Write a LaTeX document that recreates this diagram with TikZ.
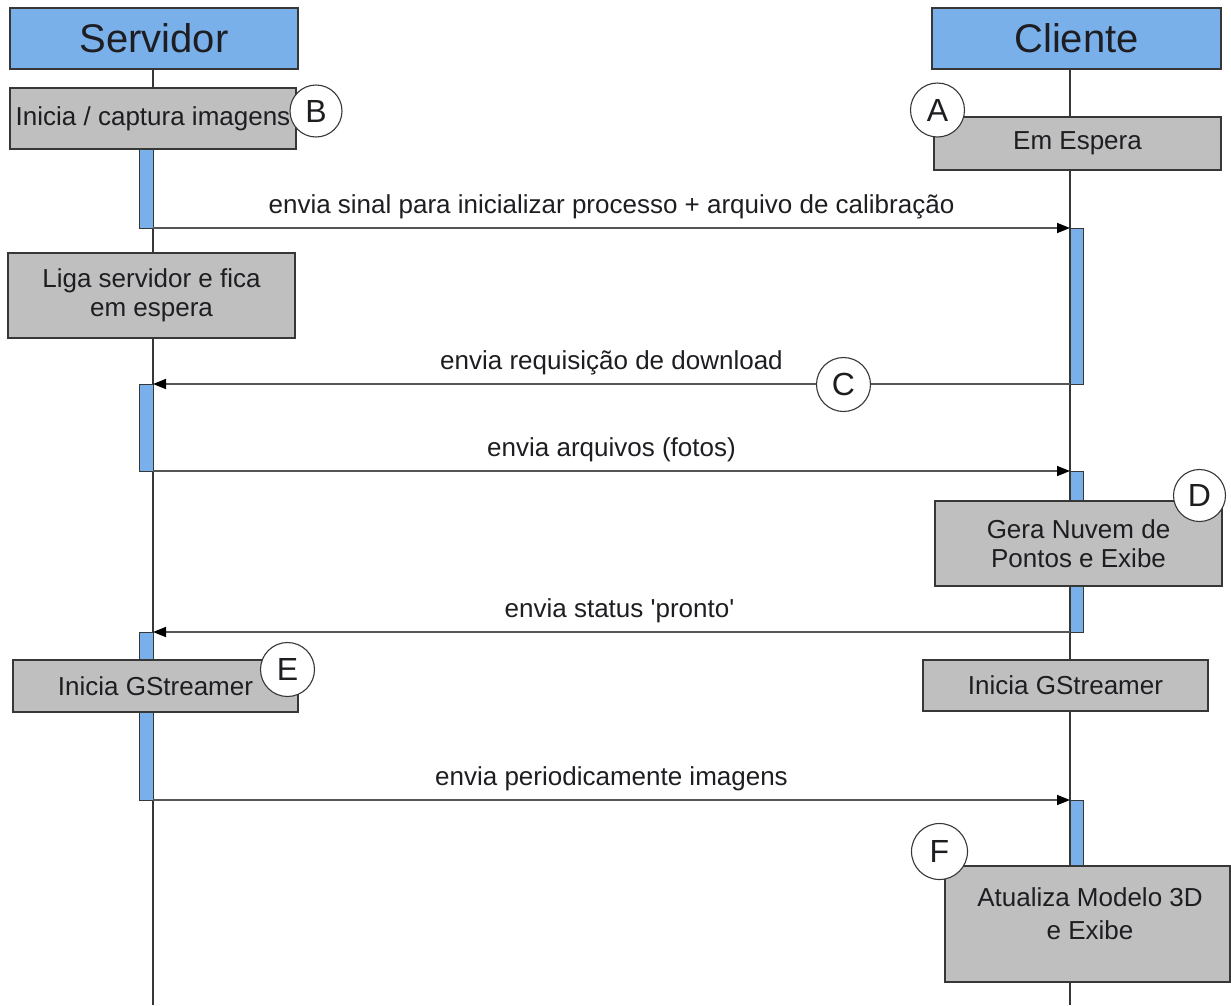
\documentclass[tikz,border=0pt]{standalone}
\usepackage{fontspec}
\setmainfont{Liberation Sans}
\usetikzlibrary{arrows.meta}

\definecolor{actblue}{RGB}{122,176,234}
\definecolor{stepgray}{RGB}{191,191,191}
\definecolor{inkline}{RGB}{55,55,55}
\definecolor{msgline}{RGB}{85,85,85}
\definecolor{inktext}{RGB}{30,30,34}

\begin{document}
\begin{tikzpicture}[x=1pt,y=-1pt,
  every node/.style={text=inktext},
  header/.style={draw=inkline, line width=1.2pt, fill=actblue, inner sep=0pt, outer sep=0pt,
    minimum height=61pt, font=\fontsize{40}{46}\selectfont},
  actbar/.style={draw=inkline, line width=1pt, fill=actblue, inner sep=0pt, outer sep=0pt,
    minimum width=14pt},
  stepbox/.style={draw=inkline, line width=1.2pt, fill=stepgray, inner sep=0pt, outer sep=0pt,
    align=center, font=\fontsize{26}{29.5}\selectfont},
  tag/.style={draw=inkline, line width=1.1pt, fill=white, circle, inner sep=0pt,
    minimum size=54pt, font=\fontsize{32}{36}\selectfont},
  lifeline/.style={draw=inkline, line width=1.2pt},
  msg/.style={draw=msgline, line width=1.6pt,
    -{Triangle[length=13pt,width=10pt,fill=black,color=black]}},
  msglabel/.style={anchor=base, yshift=15pt, font=\fontsize{26}{30}\selectfont}
]
\useasboundingbox (0,0) rectangle (1231,1005);

% lifeline heads
\node[header, minimum width=288pt] (srv) at (154,38.5) {Servidor};
\node[header, minimum width=289pt] (cli) at (1076.5,38.5) {Cliente};

% lifelines
\coordinate (srvEnd) at (153,1005);
\coordinate (cliEnd) at (1070,1005);
\draw[lifeline] (srvEnd |- srv.south) -- (srvEnd);
\draw[lifeline] (cliEnd |- cli.south) -- (cliEnd);

% activation bars
\node[actbar, minimum height=79pt]  (sa1) at (146,188.5) {};
\node[actbar, minimum height=156pt, minimum width=13pt] (ca1) at (1076.5,306) {};
\node[actbar, minimum height=87pt]  (sa2) at (146,427.5) {};
\node[actbar, minimum height=161pt, minimum width=13pt] (ca2) at (1076.5,551.5) {};
\node[actbar, minimum height=168pt] (sa3) at (146,716) {};
\node[actbar, minimum height=66pt, minimum width=13pt]  (ca3) at (1076.5,833) {};

% processing steps
\node[stepbox, minimum width=286pt, minimum height=61pt] (capt) at (153,118.5) {Inicia / captura imagens};
\node[stepbox, minimum width=287pt, minimum height=53pt] (wait) at (1077.5,143.5) {Em Espera};
\node[stepbox, minimum width=287pt, minimum height=85pt] (liga) at (151.5,295.5) {Liga servidor e fica\\em espera};
\node[stepbox, minimum width=287pt, minimum height=85pt] (nuvem) at (1078.5,543.5) {Gera Nuvem de\\Pontos e Exibe};
\node[stepbox, minimum width=285pt, minimum height=52pt] (gsS) at (155.5,686) {Inicia GStreamer};
\node[stepbox, minimum width=285pt, minimum height=51pt] (gsC) at (1065.5,685.5) {Inicia GStreamer};
\node[stepbox, minimum width=285pt, minimum height=116pt] (modelo) at (1087.5,924) {};
\node[align=center, inner sep=0pt, font=\fontsize{26}{33}\selectfont] (modeloTxt) at (1090,914)
  {Atualiza Modelo 3D\\e Exibe};

% messages
\draw[msg] (sa1.south east) -- node[msglabel] {envia sinal para inicializar processo + arquivo de calibração} (ca1.north west);
\draw[msg] (ca1.south west) -- node[msglabel] {envia requisição de download} (sa2.north east);
\draw[msg] (sa2.south east) -- node[msglabel] {envia arquivos (fotos)} (ca2.north west);
\draw[msg] (ca2.south west) -- node[msglabel, xshift=8pt] {envia status \textquotesingle pronto\textquotesingle} (sa3.north east);
\draw[msg] (sa3.south east) -- node[msglabel] {envia periodicamente imagens} (ca3.north west);

% step markers
\node[tag] (tA) at (937.5,110) {A};
\node[tag, minimum size=52pt] (tB) at (316,111) {B};
\node[tag] (tC) at (843.5,384.5) {C};
\node[tag, minimum size=52pt] (tD) at (1199.5,495.5) {D};
\node[tag] (tE) at (287.5,669.5) {E};
\node[tag, minimum size=56pt] (tF) at (939.5,851.5) {F};
\end{tikzpicture}
\end{document}
